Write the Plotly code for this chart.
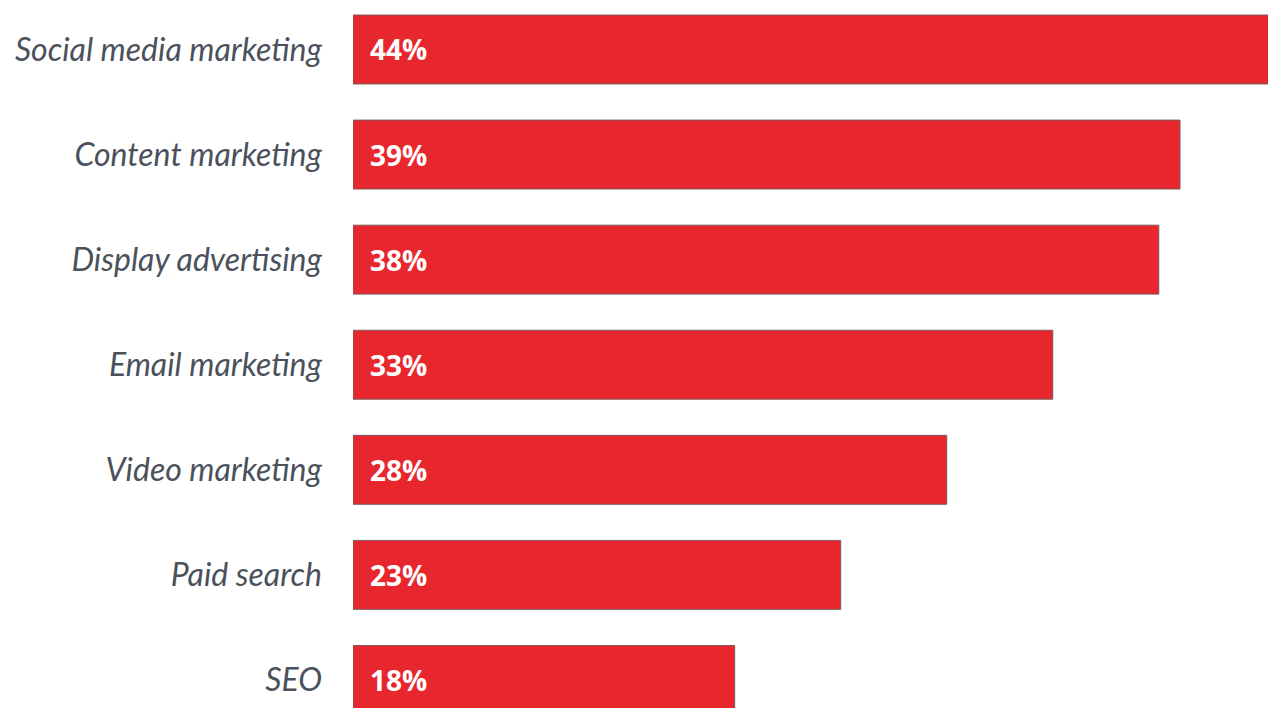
import plotly.graph_objects as go

# Share of marketers using each channel
channels = [
    "Social media marketing",
    "Content marketing",
    "Display advertising",
    "Email marketing",
    "Video marketing",
    "Paid search",
    "SEO",
]
shares = [44, 39, 38, 33, 28, 23, 18]

BAR_RED = "#E8262D"
LABEL_GREY = "#4B515B"

fig = go.Figure(
    go.Bar(
        x=shares,
        y=channels,
        orientation="h",
        width=0.656,
        marker=dict(color=BAR_RED, line=dict(color="#7A5C5E", width=1)),
        hoverinfo="skip",
    )
)

# Percentage labels near the start of each bar
for ch, v in zip(channels, shares):
    fig.add_annotation(
        x=0, y=ch, text=f"<b>{v}%</b>", showarrow=False,
        xanchor="left", xshift=15, yshift=0,
        font=dict(family="Open Sans, Lato, sans-serif", size=28, color="white"),
    )

fig.update_layout(
    width=1268, height=708,
    margin=dict(l=353, r=0, t=0, b=0),
    paper_bgcolor="white", plot_bgcolor="white",
    showlegend=False,
    xaxis=dict(range=[0, 43.15], visible=False, fixedrange=True),
    yaxis=dict(
        categoryorder="array", categoryarray=channels,
        range=[6.267, -0.471],
        showgrid=False, zeroline=False, showline=False,
        ticks="", ticklabelstandoff=30,
        tickfont=dict(family="Lato, sans-serif", size=32, color=LABEL_GREY,
                      style="italic"),
    ),
)

fig.write_html("out.html")
